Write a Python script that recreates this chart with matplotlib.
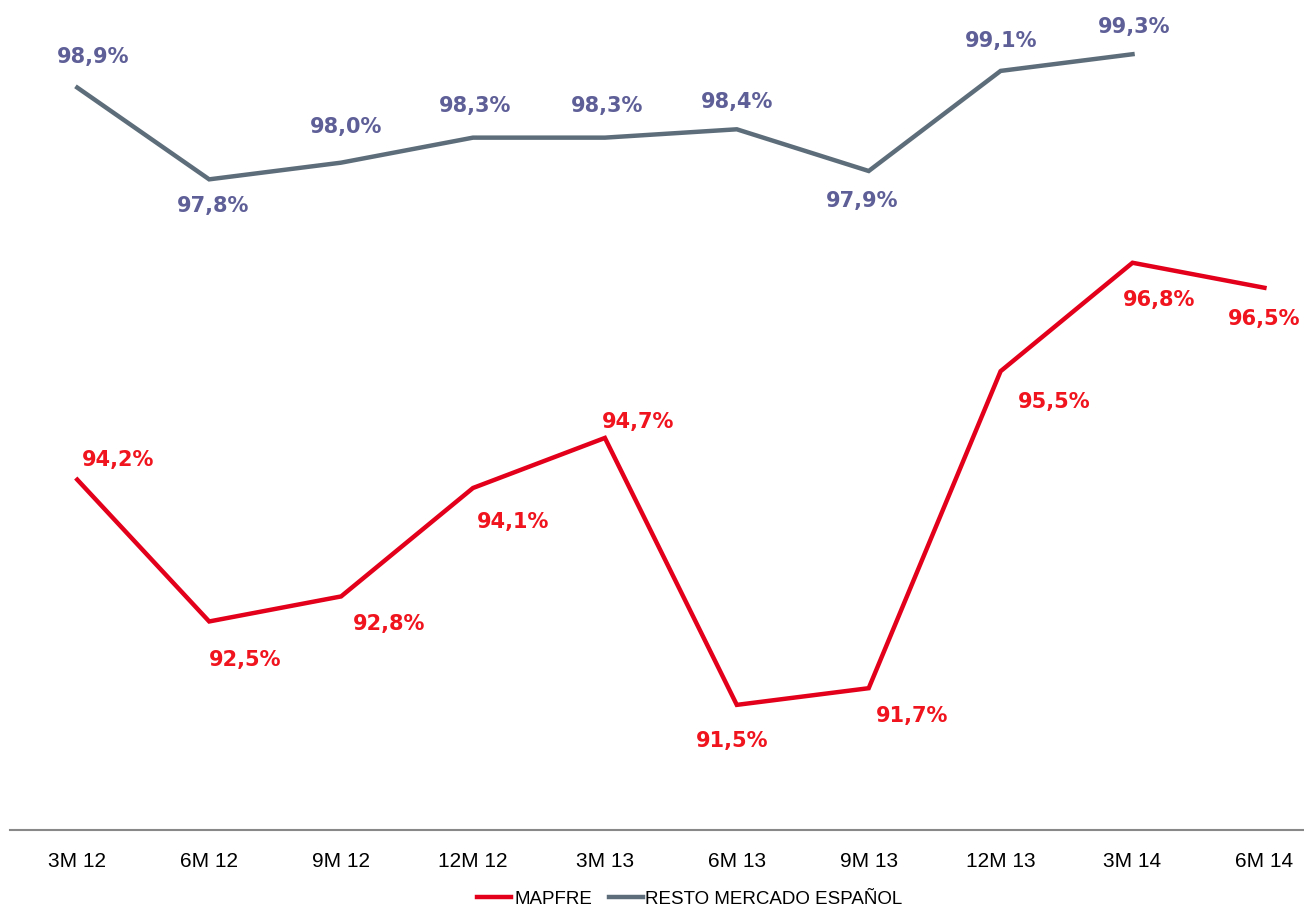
import matplotlib
matplotlib.use('Agg')
import matplotlib.pyplot as plt

periods = ['3M 12', '6M 12', '9M 12', '12M 12', '3M 13', '6M 13', '9M 13', '12M 13', '3M 14', '6M 14']
mapfre = [94.2, 92.5, 92.8, 94.1, 94.7, 91.5, 91.7, 95.5, 96.8, 96.5]
# no value for the rest of the market in 6M 14
resto = [98.9, 97.8, 98.0, 98.3, 98.3, 98.4, 97.9, 99.1, 99.3]

# label offsets in pixels (dx, dy)
mapfre_off = [(41, 20), (36, -39), (48, -28), (40, -34), (33, 16), (-5, -36), (43, -28), (54, -31), (27, -37), (0, -31)]
resto_off = [(16, 31), (4, -27), (5, 36), (2, 32), (2, 32), (0, 27), (-7, -30), (1, 30), (2, 27)]

red = '#e2001a'
red_txt = '#f0141e'
grey = '#5d6d7a'
grey_txt = '#5f5f98'

fig = plt.figure(figsize=(13.04, 9.11), dpi=100)
ax = fig.add_axes([10/1304, 81/911, 1 - 10/1304, 830/911])
x = list(range(len(periods)))
xr = x[:len(resto)]

ax.plot(x, mapfre, color=red, lw=3.2, label='MAPFRE', solid_joinstyle='miter')
ax.plot(xr, resto, color=grey, lw=3.2, label='RESTO MERCADO ESPAÑOL', solid_joinstyle='miter')

for xi, v, off in zip(x, mapfre, mapfre_off):
    ax.annotate(f'{v:.1f}%'.replace('.', ','), (xi, v), xytext=off, textcoords='offset pixels',
                ha='center', va='center', color=red_txt, fontsize=15, fontweight='bold')
for xi, v, off in zip(xr, resto, resto_off):
    ax.annotate(f'{v:.1f}%'.replace('.', ','), (xi, v), xytext=off, textcoords='offset pixels',
                ha='center', va='center', color=grey_txt, fontsize=15, fontweight='bold')

ax.set_xlim(-0.51, 9.3)
ax.set_ylim(90, 99.95)
ax.set_xticks(x)
ax.set_xticklabels(periods, fontsize=15, family='Liberation Sans')
ax.tick_params(axis='x', length=0, pad=16)
ax.set_yticks([])
for s in ['top', 'right', 'left']:
    ax.spines[s].set_visible(False)
ax.spines['bottom'].set_color('#888888')
ax.spines['bottom'].set_linewidth(1.5)

fig.legend(loc='center', bbox_to_anchor=(690/1304, 1 - 899/911), ncol=2, frameon=False,
           prop={'family': 'Liberation Sans', 'size': 13.5}, handlelength=1.8, handletextpad=0.15,
           columnspacing=0.9)

fig.savefig('out.png', dpi=100, facecolor='white')
